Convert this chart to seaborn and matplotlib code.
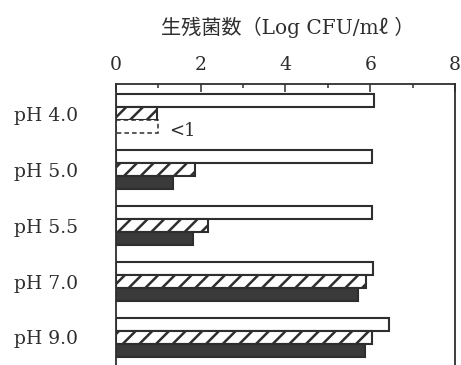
"""Survival counts by pH, horizontal grouped bars (Log CFU/ml)."""

import matplotlib

matplotlib.use("Agg")
import matplotlib.pyplot as plt
import pandas as pd
import seaborn as sns
from matplotlib.ticker import MultipleLocator

# values
ph_labels = ["pH 4.0", "pH 5.0", "pH 5.5", "pH 7.0", "pH 9.0"]
series = ["open", "hatched", "solid"]
open_vals = [6.08, 6.05, 6.03, 6.07, 6.45]
hatched_vals = [0.97, 1.87, 2.18, 5.89, 6.05]
solid_vals = [1.0, 1.35, 1.82, 5.70, 5.87]  # pH 4.0 is below detection (<1)

INK = "#2e2e2e"

sns.set_style("white")
plt.rcParams["font.family"] = ["DejaVu Serif", "Noto Sans CJK JP"]
plt.rcParams["hatch.color"] = INK
plt.rcParams["hatch.linewidth"] = 1.8

df = pd.DataFrame({
    "ph": ph_labels * 3,
    "series": [s for s in series for _ in ph_labels],
    "value": open_vals + hatched_vals + solid_vals,
})

fig = plt.figure(figsize=(4.61, 3.65), dpi=100)
ax = fig.add_axes([0.2516, -0.0274, 0.7354, 0.797])

sns.barplot(
    data=df, x="value", y="ph", hue="series", hue_order=series, order=ph_labels,
    palette={"open": "white", "hatched": "white", "solid": "#3a3a3a"},
    orient="h", width=0.7, edgecolor=INK, linewidth=1.5, legend=False, ax=ax,
)

for bar in ax.containers[1]:
    bar.set_hatch("//")

# below detection limit at pH 4.0: dashed outline only
low = ax.containers[2][0]
low.set_facecolor("white")
low.set_linestyle((0, (3, 2)))
low.set_linewidth(1.1)
ax.text(1.25, low.get_y() + low.get_height() * 0.85, "<1", va="center", ha="left",
        fontsize=13, color=INK)

ax.set_xlim(0, 8)
ax.set_ylim(4.67, -0.527)
ax.xaxis.set_major_locator(MultipleLocator(2))
ax.xaxis.set_minor_locator(MultipleLocator(1))
ax.xaxis.tick_top()
ax.tick_params(axis="x", which="major", direction="in", length=6, width=1.1,
               color=INK, labelsize=13.5, labelcolor=INK, pad=7)
ax.tick_params(axis="x", which="minor", direction="in", length=3, width=1.1, color=INK)
ax.tick_params(axis="y", length=0, labelsize=13.5, labelcolor=INK, pad=27)
ax.set_xlabel("")
ax.set_ylabel("")
for spine in ax.spines.values():
    spine.set_color(INK)
    spine.set_linewidth(1.3)

fig.text(0.625, 0.925, "生残菌数（Log CFU/mℓ ）", ha="center", va="center",
         fontsize=14.5, color=INK)

fig.savefig("out.png", dpi=100)
